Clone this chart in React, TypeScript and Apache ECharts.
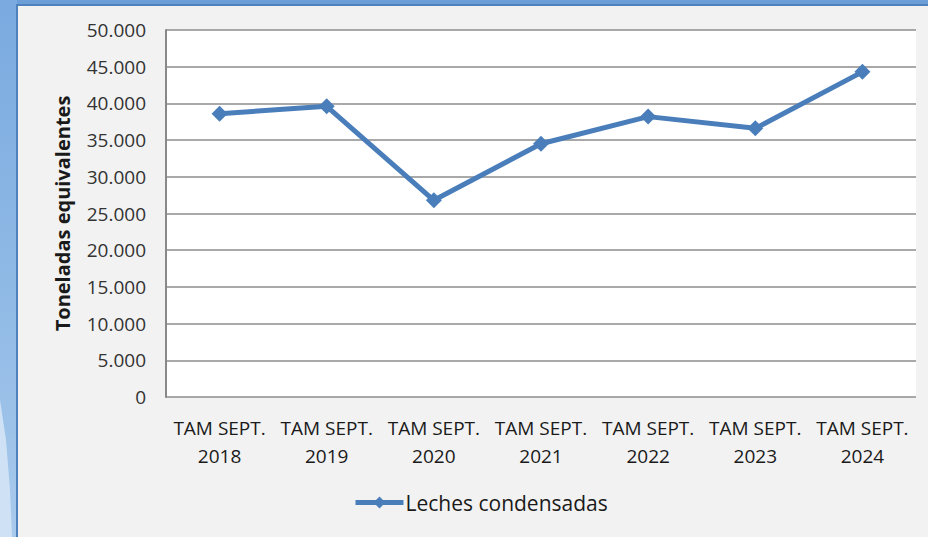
import React, { useEffect, useRef } from "react";
import * as echarts from "echarts";

const categories = [
  "TAM SEPT.\n2018",
  "TAM SEPT.\n2019",
  "TAM SEPT.\n2020",
  "TAM SEPT.\n2021",
  "TAM SEPT.\n2022",
  "TAM SEPT.\n2023",
  "TAM SEPT.\n2024",
];
const lechesCondensadas = [38600, 39600, 26800, 34500, 38200, 36600, 44300];
const seriesName = "Leches condensadas";
const yAxisTitle = "Toneladas equivalentes";

const FONT = "'Open Sans', 'Noto Sans', sans-serif";

export default function App() {
  const ref = useRef<HTMLDivElement>(null);
  useEffect(() => {
    document.body.style.margin = "0";
    const chart = echarts.init(ref.current!, null, { renderer: "svg" });
    chart.setOption({
      animation: false,
      backgroundColor: "#f2f2f2",
      graphic: [
        {
          type: "rect",
          z: -10,
          silent: true,
          shape: { x: 0, y: 0, width: 928, height: 5 },
          style: { fill: "#6c9fd8" },
        },
        {
          type: "rect",
          z: -10,
          silent: true,
          shape: { x: 0, y: 0, width: 17, height: 537 },
          style: {
            fill: new echarts.graphic.LinearGradient(0, 0, 0, 1, [
              { offset: 0, color: "#7aaae0" },
              { offset: 0.6, color: "#92bbe6" },
              { offset: 1, color: "#a9caec" },
            ]),
          },
        },
        {
          type: "polygon",
          z: -9,
          silent: true,
          shape: {
            points: [
              [0, 400],
              [6, 440],
              [10, 490],
              [12, 537],
              [0, 537],
            ],
          },
          style: { fill: "#cfe2f5" },
        },
        {
          type: "line",
          z: -8,
          silent: true,
          shape: { x1: 17, y1: 4, x2: 17, y2: 537 },
          style: { stroke: "#4f81bd", lineWidth: 2 },
        },
        {
          type: "line",
          z: -8,
          silent: true,
          shape: { x1: 16, y1: 5, x2: 928, y2: 5 },
          style: { stroke: "#4f81bd", lineWidth: 2 },
        },
      ],
      grid: {
        left: 166,
        right: 12,
        top: 30,
        bottom: 140,
        show: true,
        backgroundColor: "#ffffff",
        borderWidth: 0,
      },
      legend: {
        data: [seriesName],
        bottom: 19,
        left: 348,
        itemWidth: 48,
        itemHeight: 15,
        itemGap: 2,
        lineStyle: { width: 5 },
        textStyle: { fontFamily: FONT, fontSize: 21, color: "#1a1a1a", padding: [0, 0, 0, -3] },
      },
      xAxis: {
        type: "category",
        data: categories,
        boundaryGap: true,
        axisLine: { show: false },
        axisTick: { show: false },
        axisLabel: {
          interval: 0,
          margin: 17,
          fontFamily: FONT,
          fontSize: 19,
          lineHeight: 28,
          color: "#1a1a1a",
        },
      },
      yAxis: {
        type: "value",
        min: 0,
        max: 50000,
        interval: 5000,
        name: yAxisTitle,
        nameLocation: "middle",
        nameGap: 94,
        nameTextStyle: {
          fontFamily: FONT,
          fontSize: 20,
          fontWeight: "bold",
          color: "#1a1a1a",
        },
        axisLine: { show: true, lineStyle: { color: "#888888", width: 2 } },
        axisTick: { show: false },
        splitLine: { lineStyle: { color: "#8c8c8c", width: 1.5 } },
        axisLabel: {
          margin: 20,
          fontFamily: FONT,
          fontSize: 19,
          color: "#333333",
          formatter: (v: number) =>
            v.toString().replace(/\B(?=(\d{3})+(?!\d))/g, "."),
        },
      },
      series: [
        {
          name: seriesName,
          type: "line",
          data: lechesCondensadas,
          symbol: "diamond",
          symbolSize: 16,
          lineStyle: { color: "#4a7ebb", width: 5 },
          itemStyle: { color: "#4a7ebb" },
        },
      ],
    });
    return () => chart.dispose();
  }, []);
  return (
    <div
      ref={ref}
      style={{ position: "fixed", left: 0, top: 0, width: 928, height: 537 }}
    />
  );
}
